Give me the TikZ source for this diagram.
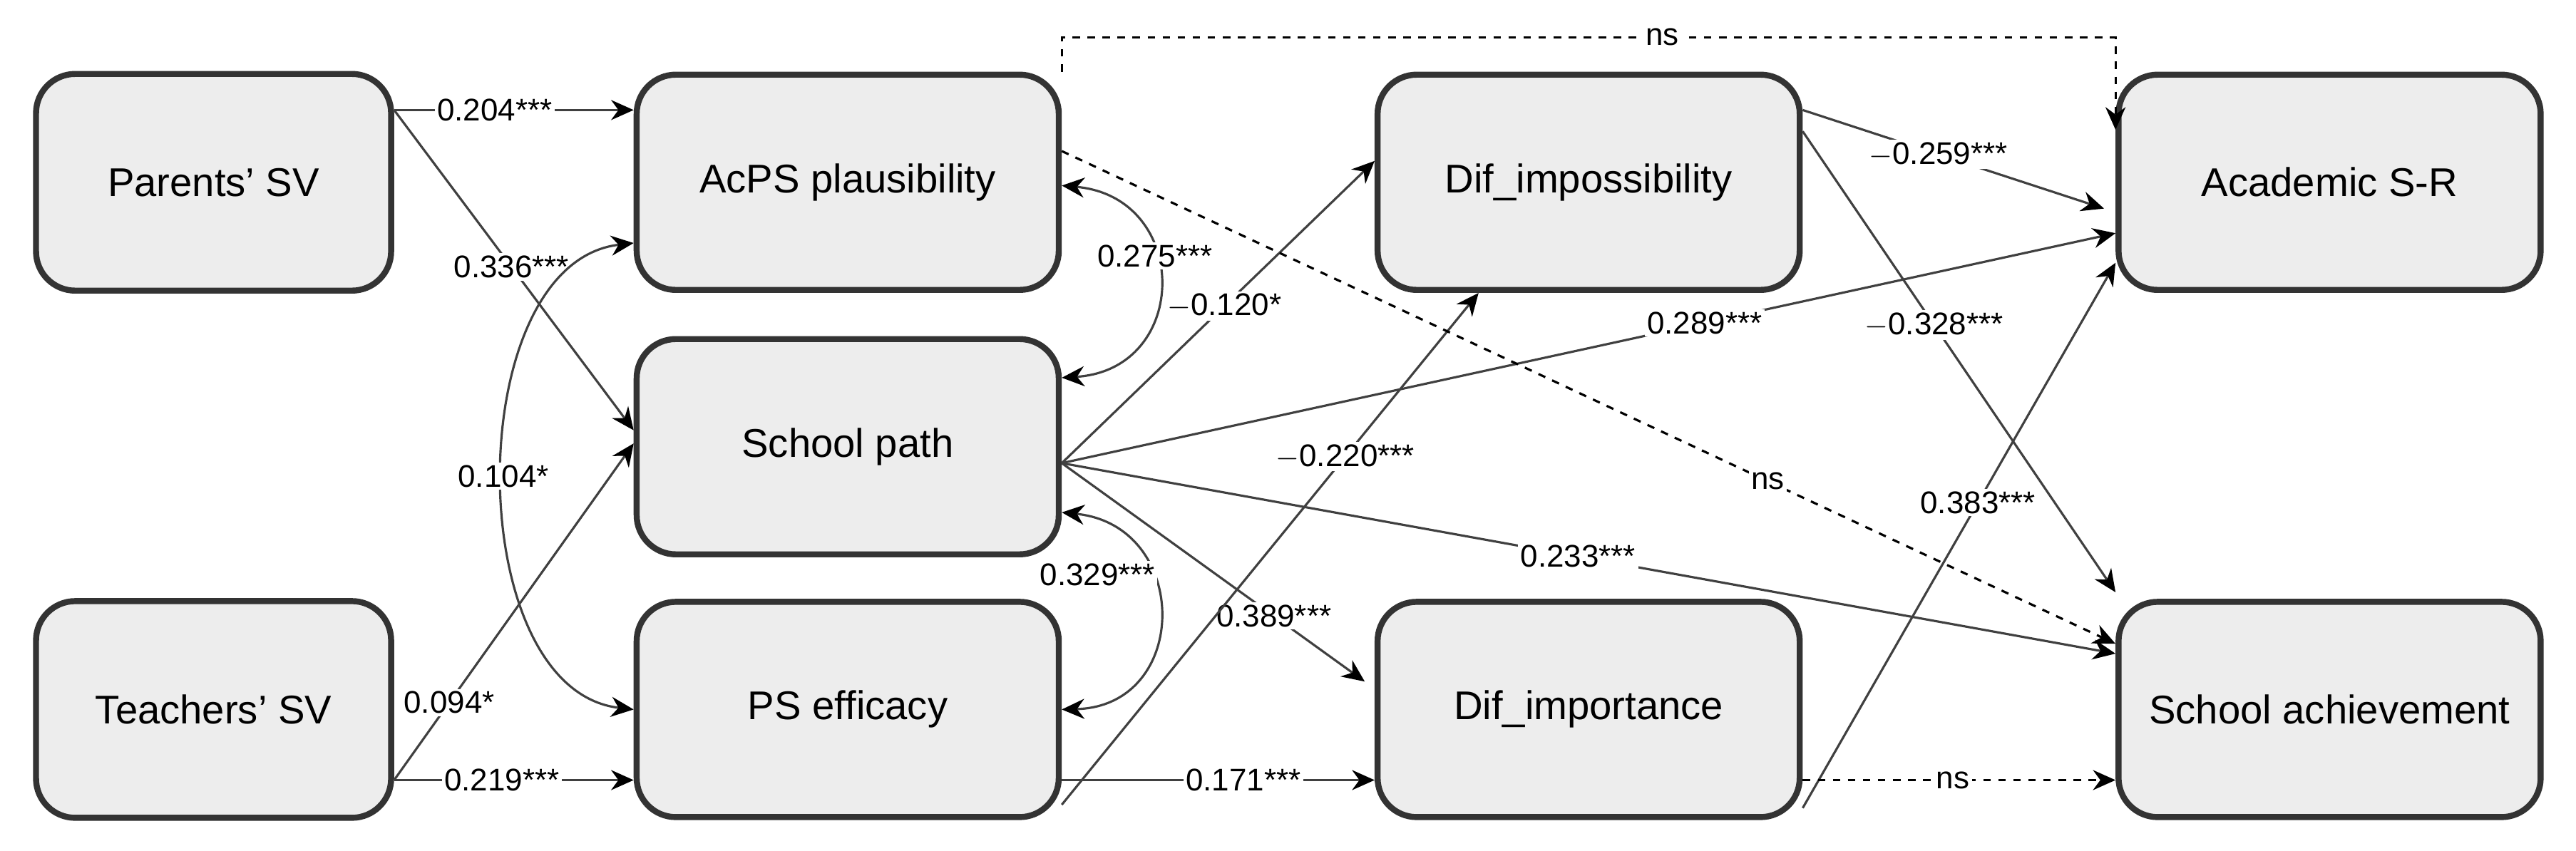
\documentclass[tikz,border=0pt]{standalone}
\usepackage{fontspec}
\setmainfont{Liberation Sans}
\usetikzlibrary{arrows.meta,calc}

\tikzset{
  var/.style={draw=black!80,line width=2.4pt,rounded corners=0.55cm,fill=black!7,
    minimum width=5.92cm,minimum height=3.02cm,font=\fontsize{16}{18}\selectfont},
  exo/.style={var,minimum width=4.98cm,minimum height=3.04cm},
  path/.style={draw=black!75,line width=0.9pt,-{Stealth[length=9pt,width=8pt,color=black]}},
  cov/.style={path,{Stealth[length=9pt,width=8pt,color=black]}-{Stealth[length=9pt,width=8pt,color=black]}},
  nsp/.style={path,dashed,draw=black},
  coef/.style={fill=white,inner sep=1pt,font=\fontsize{12.5}{14}\selectfont}
}

\begin{document}
\begin{tikzpicture}[x=0.02304cm,y=-0.02304cm]
\useasboundingbox (0,0) rectangle (1568,518);

% variables
\node[exo] (par)   at (130,111)  {Parents' SV};
\node[exo] (tea)   at (130,432)  {Teachers' SV};
\node[var] (acps)  at (516,111)  {AcPS plausibility};
\node[var] (sp)    at (516,272)  {School path};
\node[var] (pse)   at (516,432)  {PS efficacy};
\node[var] (dimp)  at (967,111)  {Dif\_impossibility};
\node[var] (dimpt) at (967,432)  {Dif\_importance};
\node[var] (asr)   at (1418,111) {Academic S-R};
\node[var] (sa)    at (1418,432) {School achievement};

% first step
\draw[path] ($(par.east)+(0,-44)$) -- node[coef,pos=.42] {0.204***} ($(acps.west)+(0,-44)$);
\draw[path] ($(par.east)+(0,-44)$) -- node[coef,pos=.49] {0.336***} ($(sp.west)+(0,-10)$);
\draw[path] ($(tea.east)+(0,43)$) -- node[coef,pos=.45] {0.219***} ($(pse.west)+(0,43)$);
\draw[path] ($(tea.east)+(0,43)$) -- node[coef,pos=.23] {0.094*} ($(sp.west)+(0,-2)$);

% covariances
\draw[cov] ($(acps.west)+(0,37)$) .. controls (280,160) and (280,420) .. node[coef] {0.104*} (pse.west);
\draw[cov] ($(acps.east)+(0,2)$) .. controls (725,120) and (725,225) .. node[coef,pos=.4] {0.275***} ($(sp.east)+(0,-42)$);
\draw[cov] ($(sp.east)+(0,40)$) .. controls (725,320) and (725,430) .. (pse.east);
\node[coef] (c329) at (668,350) {0.329***};

% from school path
\draw[path] ($(sp.east)+(0,10)$) -- node[coef,pos=.52] {$-$0.120*} ($(dimp.west)+(0,-13)$);
\draw[path] ($(sp.east)+(0,10)$) -- node[coef,pos=.61] {0.289***} ($(asr.west)+(0,31)$);
\draw[path] ($(sp.east)+(0,10)$) -- node[coef,pos=.49] {0.233***} ($(sa.west)+(0,-34)$);
\draw[path] ($(sp.east)+(0,10)$) -- node[coef,pos=.70] {0.389***} ($(dimpt.west)+(-6,-17)$);

% from PS efficacy
\draw[path] ($(pse.east)+(0,43)$) -- node[coef,pos=.58] {0.171***} ($(dimpt.west)+(0,43)$);
\draw[path] ($(pse.east)+(0,58)$) -- node[coef,pos=.68] {$-$0.220***} ($(dimp.south)+(-67,0)$);

% from AcPS plausibility
\draw[nsp] ($(acps.east)+(0,-19)$) -- node[coef,pos=.67] {ns} ($(sa.west)+(0,-40)$);
\coordinate (top) at ($(acps.north east)+(0,-21)$);
\draw[nsp] (acps.north east) -- (top) -- node[coef,pos=.57] {ns} (top -| asr.west) -- ($(asr.west)+(0,-32)$);

% to outcomes
\draw[path] ($(dimp.east)+(0,-44)$) -- node[coef,pos=.45] {$-$0.259***} ($(asr.west)+(-7,16)$);
\draw[path] ($(dimp.east)+(0,-31)$) -- node[coef,pos=.42] {$-$0.328***} ($(sa.north west)+(0,-4)$);
\draw[path] ($(dimpt.east)+(0,60)$) -- node[coef,pos=.56] {0.383***} ($(asr.west)+(0,49)$);
\draw[nsp] ($(dimpt.east)+(0,43)$) -- node[coef,pos=.48] {ns} ($(sa.west)+(0,43)$);
\end{tikzpicture}
\end{document}
